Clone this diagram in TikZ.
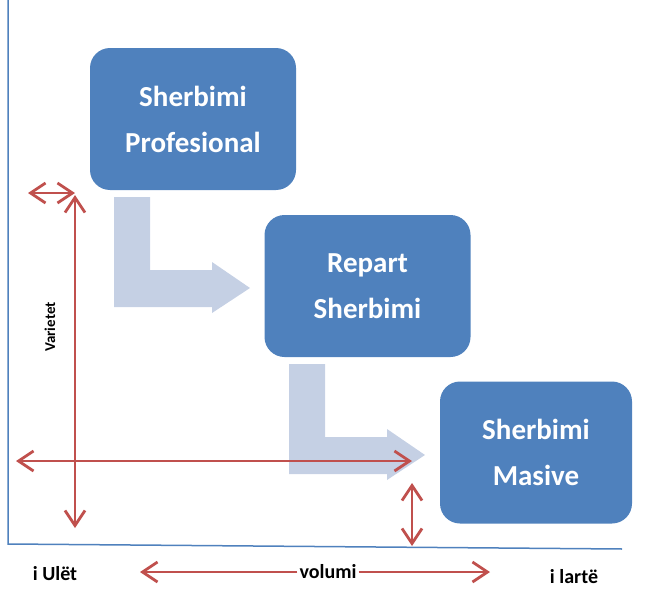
\documentclass[tikz,border=0pt]{standalone}
\usepackage{fontspec}
\setmainfont{Carlito}
\usetikzlibrary{arrows.meta}
\usetikzlibrary{shapes}
\definecolor{boxblue}{HTML}{4F81BD}
\definecolor{bentblue}{HTML}{C5D0E4}
\definecolor{arrred}{HTML}{C0504D}

\begin{document}
\begin{tikzpicture}[x = 1pt, y = -1pt]
\tikzstyle{BoxStyle}=[shape = rectangle, rounded corners = 20pt, fill = boxblue,
text = white, font = \fontsize{29}{46}\selectfont\bfseries, align = center,
inner sep = 0pt, minimum width = 206pt, minimum height = 142pt]
\tikzstyle{TipStyle}=[draw = arrred, line width = 2.8pt]
\tikzstyle{BothStyle}=[TipStyle, {Straight Barb[length = 15pt, width = 20pt]}-{Straight Barb[length = 15pt, width = 20pt]}]
\tikzstyle{OneStyle}=[TipStyle, -{Straight Barb[length = 15pt, width = 20pt]}]
\tikzstyle{LabelStyle}=[font = \fontsize{20}{22}\selectfont\bfseries, inner sep = 2pt]
\useasboundingbox (0,0) rectangle (646,589);
% axes
\draw[boxblue, line width = 1.5pt] (8,0) -- (8,544) -- (622,549);
% bent arrows
\fill[bentblue] (114,197) -- (150,197) -- (150,270) -- (212,270) -- (212,262)
  -- (250,288) -- (212,313) -- (212,307) -- (114,307) -- cycle;
\begin{scope}[shift = {(175,167)}]
\fill[bentblue] (114,197) -- (150,197) -- (150,270) -- (212,270) -- (212,262)
  -- (250,288) -- (212,313) -- (212,307) -- (114,307) -- cycle;
\end{scope}
% boxes
\node[BoxStyle] (b0) at (193,119) {Sherbimi\\Profesional};
\node[BoxStyle] (b1) at (367.5,286) {Repart\\Sherbimi};
\node[BoxStyle, minimum width = 192pt] (b2) at (536,452.5) {Sherbimi\\Masive};
% red arrows
\coordinate (c0) at (28,193);
\coordinate (c1) at (75,193);
\coordinate (c2) at (75,195);
\coordinate (c3) at (75,528);
\coordinate (c4) at (16,461);
\coordinate (c5) at (412,461);
\coordinate (c6) at (412,483);
\coordinate (c7) at (412,546);
\coordinate (c8) at (140,572);
\coordinate (c9) at (490,572);
\draw[BothStyle] (c0) -- (c1);
\draw[BothStyle] (c2) -- (c3);
\draw[BothStyle] (c4) -- (c5);
\draw[BothStyle] (c6) -- (c7);
% labels
\node[LabelStyle] (l0) at (55,574) {i Ulët};
\node[LabelStyle] (l1) at (328,572) {volumi};
\node[LabelStyle] (l2) at (574,577) {i lartë};
\node[LabelStyle, font = \fontsize{15}{18}\selectfont\bfseries, rotate = 90] (l3) at (50,327) {Varietet};
\draw[OneStyle] (l1) -- (c8);
\draw[OneStyle] (l1) -- (c9);
\end{tikzpicture}
\end{document}
